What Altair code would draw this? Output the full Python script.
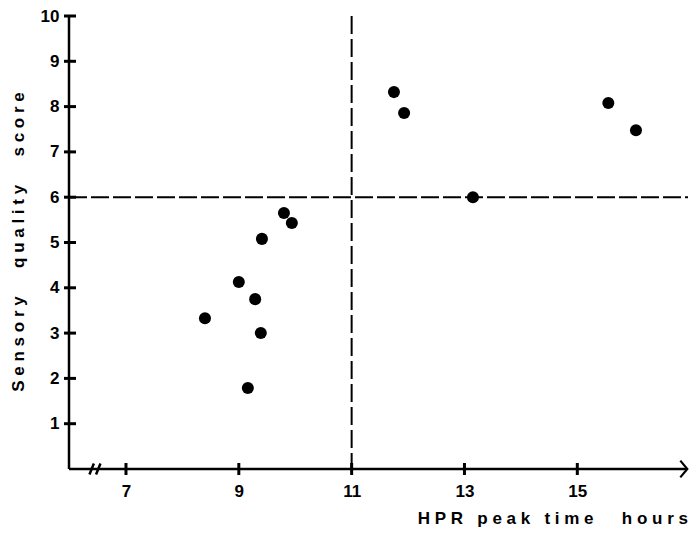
import altair as alt
import pandas as pd

# ---- data ----
hpr_peak_time = [8.40, 9.00, 9.16, 9.29, 9.39, 9.41, 9.80, 9.94, 11.75, 11.93, 13.15, 15.55, 16.04]
quality_score = [3.33, 4.13, 1.79, 3.75, 3.00, 5.08, 5.65, 5.43, 8.32, 7.86, 6.00, 8.08, 7.48]
x_ticks = [7, 9, 11, 13, 15]
y_ticks = [1, 2, 3, 4, 5, 6, 7, 8, 9, 10]
x_cut = [11]
y_cut = [6]
x_break = [6.45]
x_arrow = [16.95]
x_domain = [5.99, 16.98]
y_domain = [0, 10]
x_title_words = ["HPR", "peak", "time", "", "hours"]
y_title_words = ["Sensory", "quality", "score"]

W, H = 620, 453
FONT = "Liberation Sans"
NB = "\u00a0"


def spaced(words, gap):
    return (NB * gap).join(NB.join(list(w)) for w in words)


df = pd.DataFrame({"hpr": hpr_peak_time, "score": quality_score})

xs = alt.Scale(domain=x_domain, nice=False, zero=False)
ys = alt.Scale(domain=y_domain, nice=False, zero=False)

x_axis = alt.Axis(values=x_ticks, ticks=False, domain=False, grid=False,
                  labelFont=FONT, labelFontSize=17, labelFontWeight="bold",
                  labelColor="black", labelPadding=14, labelFlush=False, title=None)
y_axis = alt.Axis(values=y_ticks, ticks=False, domain=False, grid=False,
                  labelFont=FONT, labelFontSize=17, labelFontWeight="bold",
                  labelColor="black", labelPadding=10, labelFlush=False, title=None)


def X(field):
    return alt.X(field, type="quantitative", scale=xs, axis=x_axis)


def Y(field):
    return alt.Y(field, type="quantitative", scale=ys, axis=y_axis)


points = alt.Chart(df).mark_circle(size=145, color="black", opacity=1).encode(
    x=X("hpr"), y=Y("score"))

vdash = alt.Chart(pd.DataFrame({"v": x_cut})).mark_rule(
    color="black", strokeWidth=2, strokeDash=[18, 5]).encode(
    x=X("v"), y=alt.value(0), y2=alt.value(H))

hdash = alt.Chart(pd.DataFrame({"v": y_cut})).mark_rule(
    color="black", strokeWidth=2, strokeDash=[18, 4]).encode(
    y=Y("v"), x=alt.value(0), x2=alt.value(W - 1))

one = pd.DataFrame({"k": [0]})

y_line = alt.Chart(one).mark_rule(color="black", strokeWidth=2.5).encode(
    x=alt.value(0), y=alt.value(0), y2=alt.value(H))
x_line = alt.Chart(one).mark_rule(color="black", strokeWidth=2.5).encode(
    y=alt.value(H), x=alt.value(0), x2=alt.value(W - 2))

x_tick_marks = alt.Chart(pd.DataFrame({"v": [float(t) for t in x_ticks]})).mark_rule(
    color="black", strokeWidth=3).encode(
    x=X("v"), y=alt.value(H - 6), y2=alt.value(H + 6))
y_tick_marks = alt.Chart(pd.DataFrame({"v": [float(t) for t in y_ticks]})).mark_rule(
    color="black", strokeWidth=3).encode(
    y=Y("v"), x=alt.value(-5), x2=alt.value(7))

arrow = alt.Chart(pd.DataFrame({"v": x_arrow})).mark_point(
    shape="M-1,-1.2L0,0L-1,1.2", filled=False, size=196, strokeWidth=2.2,
    color="black", opacity=1).encode(
    x=X("v"), y=alt.value(H))

brk = alt.Chart(pd.DataFrame({"v": x_break})).mark_point(
    shape="M-1,1L-0.2,-1M0.2,1L1,-1", filled=False, size=121, strokeWidth=2.5,
    color="black", opacity=1).encode(
    x=X("v"), y=alt.value(H))

x_title = alt.Chart(one).mark_text(
    font=FONT, fontSize=17, fontWeight="bold", align="right", baseline="alphabetic",
    color="black").encode(
    x=alt.value(W - 1), y=alt.value(508), text=alt.value(spaced(x_title_words, 3)))

y_title = alt.Chart(one).mark_text(
    font=FONT, fontSize=17, fontWeight="bold", align="center", baseline="middle",
    angle=270, color="black").encode(
    x=alt.value(-50), y=alt.value(226), text=alt.value(spaced(y_title_words, 6)))

chart = alt.layer(
    vdash, hdash, y_line, x_line, x_tick_marks, y_tick_marks,
    points, arrow, brk, x_title, y_title
).properties(
    width=W, height=H,
    autosize=alt.AutoSizeParams(type="none"),
    padding={"left": 61, "top": 8, "right": 0, "bottom": 59},
).configure_view(stroke=None)

chart.save("out.html", embed_options={"renderer": "svg", "actions": False})
